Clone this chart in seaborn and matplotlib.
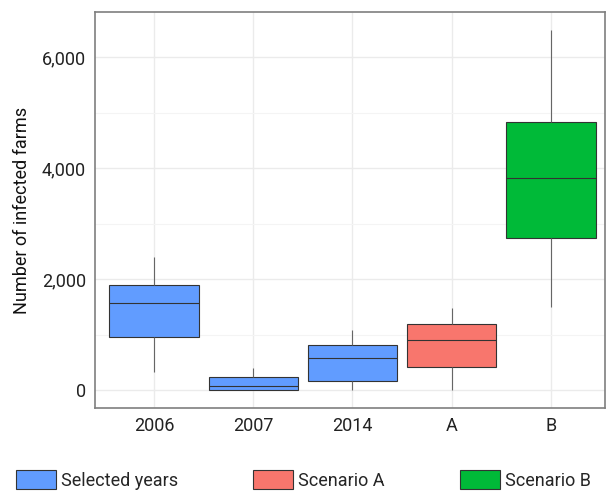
import numpy as np
import pandas as pd
import matplotlib
matplotlib.use("Agg")
import matplotlib.pyplot as plt
import seaborn as sns
from matplotlib.patches import Patch
from matplotlib.ticker import FuncFormatter, MultipleLocator

# five-number summaries (min, Q1, median, Q3, max)
categories = ["2006", "2007", "2014", "A", "B"]
groups = ["Selected years", "Selected years", "Selected years", "Scenario A", "Scenario B"]
summary_2006 = [324, 955, 1580, 1897, 2396]
summary_2007 = [0, 0, 78, 235, 398]
summary_2014 = [0, 163, 573, 813, 1084]
summary_A = [0, 421, 904, 1193, 1476]
summary_B = [1495, 2739, 3820, 4840, 6492]
summaries = [summary_2006, summary_2007, summary_2014, summary_A, summary_B]

legend_labels = ["Selected years", "Scenario A", "Scenario B"]
colors = ["#619CFF", "#F8766D", "#00BA38"]
palette = dict(zip(legend_labels, colors))

rows = []
for cat, grp, vals in zip(categories, groups, summaries):
    for v in vals:
        rows.append({"period": cat, "group": grp, "farms": v})
df = pd.DataFrame(rows)

sns.set_style("white")
plt.rcParams['font.family'] = ['Roboto', 'DejaVu Sans']

fig = plt.figure(figsize=(6.06, 4.94), dpi=100)
ax = fig.add_axes([95 / 606, 1 - 408 / 494, 510 / 606, 396 / 494])

sns.boxplot(data=df, x="period", y="farms", hue="group", order=categories,
            palette=palette, saturation=1, dodge=False, width=0.9, whis=(0, 100),
            showfliers=False, showcaps=False, linewidth=0.8, linecolor="#333333",
            whiskerprops={"color": "#666666"}, legend=False, ax=ax)

ax.set_xlim(-0.594, 4.544)
ax.set_ylim(-319, 6816)
ax.yaxis.set_major_locator(MultipleLocator(2000))
ax.yaxis.set_minor_locator(MultipleLocator(1000))
ax.yaxis.set_major_formatter(FuncFormatter(lambda v, p: f"{int(v):,}"))

ax.grid(True, which="major", color="#ebebeb", linewidth=1.0)
ax.grid(True, which="minor", axis="y", color="#f4f4f4", linewidth=0.8)
ax.set_axisbelow(True)
for s in ax.spines.values():
    s.set_color("#7f7f7f")
    s.set_linewidth(1.2)

ax.tick_params(axis="both", which="major", length=2.5, width=1.2, color="black",
               labelsize=13, labelcolor="#222222", pad=4)
ax.tick_params(axis="y", which="minor", length=0)
ax.set_xlabel("")
ax.set_ylabel("Number of infected farms", fontsize=13, color="#111111", labelpad=8)

handles = [Patch(facecolor=c, edgecolor="#333333", linewidth=0.8) for c in colors]
fig.legend(handles, legend_labels, loc="lower left", ncol=3, mode="expand",
           bbox_to_anchor=(0.015, -0.006, 0.972, 0.06), frameon=False,
           fontsize=13, handlelength=2.2, handleheight=1.2, handletextpad=0.3,
           borderaxespad=0.0)

fig.savefig("out.png", dpi=100)
